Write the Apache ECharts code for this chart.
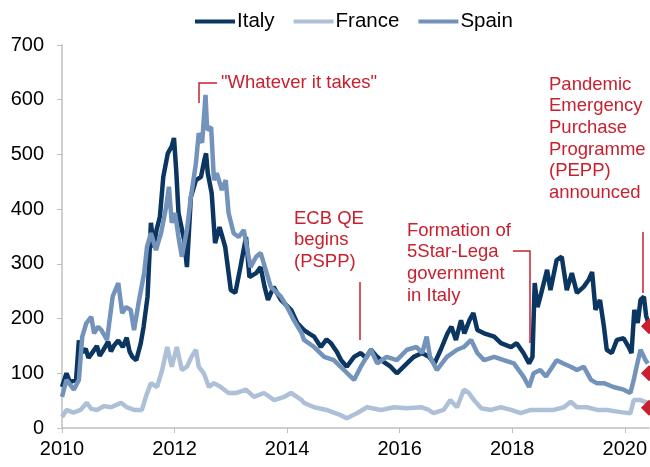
<!DOCTYPE html>
<html>
<head>
<meta charset="utf-8">
<title>Italy, France, Spain spreads</title>
<script src="https://cdn.jsdelivr.net/npm/echarts@6/dist/echarts.min.js"></script>
<style>
    html, body { margin: 0; padding: 0; background: #fff; }
    #main { width: 650px; height: 467px; }
</style>
</head>
<body>
<div id="main"></div>
<script>
// data (year fraction, basis points)
var italyDates = [2010.00, 2010.08, 2010.14, 2010.25, 2010.30, 2010.36, 2010.42, 2010.47, 2010.52, 2010.62, 2010.67, 2010.72, 2010.82, 2010.87, 2010.92, 2011.00, 2011.08, 2011.15, 2011.20, 2011.25, 2011.32, 2011.40, 2011.45, 2011.52, 2011.58, 2011.63, 2011.68, 2011.74, 2011.80, 2011.88, 2011.95, 2011.99, 2012.03, 2012.07, 2012.17, 2012.22, 2012.29, 2012.38, 2012.47, 2012.53, 2012.56, 2012.59, 2012.66, 2012.72, 2012.80, 2012.90, 2013.00, 2013.08, 2013.17, 2013.27, 2013.33, 2013.45, 2013.53, 2013.60, 2013.66, 2013.76, 2013.89, 2014.07, 2014.18, 2014.30, 2014.40, 2014.48, 2014.60, 2014.70, 2014.78, 2014.88, 2014.96, 2015.06, 2015.19, 2015.31, 2015.40, 2015.49, 2015.58, 2015.67, 2015.84, 2015.95, 2016.13, 2016.25, 2016.40, 2016.52, 2016.62, 2016.73, 2016.85, 2016.92, 2017.00, 2017.09, 2017.15, 2017.24, 2017.31, 2017.38, 2017.50, 2017.68, 2017.80, 2017.98, 2018.08, 2018.20, 2018.30, 2018.36, 2018.40, 2018.45, 2018.50, 2018.62, 2018.68, 2018.79, 2018.88, 2018.97, 2019.06, 2019.15, 2019.27, 2019.36, 2019.42, 2019.48, 2019.56, 2019.63, 2019.68, 2019.77, 2019.86, 2019.98, 2020.07, 2020.12, 2020.17, 2020.23, 2020.28, 2020.34, 2020.38, 2020.41];
var italyValues = [75, 100, 84, 88, 160, 138, 145, 128, 135, 150, 132, 140, 158, 140, 150, 160, 148, 165, 140, 130, 124, 155, 185, 240, 375, 330, 362, 386, 459, 502, 515, 530, 470, 393, 344, 294, 422, 453, 459, 490, 502, 466, 429, 338, 367, 331, 252, 247, 294, 349, 276, 283, 294, 258, 234, 258, 234, 216, 192, 179, 172, 167, 148, 162, 155, 140, 124, 112, 130, 137, 128, 143, 132, 124, 112, 100, 118, 130, 137, 130, 118, 143, 173, 185, 161, 197, 173, 197, 210, 179, 173, 167, 155, 148, 155, 137, 118, 130, 265, 221, 240, 289, 252, 307, 313, 252, 283, 247, 258, 271, 285, 216, 234, 185, 143, 137, 161, 164, 148, 137, 216, 192, 234, 240, 205, 195];

var franceDates = [2010.00, 2010.08, 2010.20, 2010.33, 2010.44, 2010.52, 2010.62, 2010.75, 2010.87, 2011.05, 2011.15, 2011.28, 2011.42, 2011.49, 2011.58, 2011.69, 2011.78, 2011.87, 2011.95, 2012.04, 2012.13, 2012.22, 2012.30, 2012.38, 2012.43, 2012.52, 2012.61, 2012.70, 2012.82, 2012.96, 2013.10, 2013.27, 2013.41, 2013.59, 2013.77, 2013.95, 2014.07, 2014.26, 2014.30, 2014.48, 2014.70, 2014.94, 2015.06, 2015.24, 2015.42, 2015.67, 2015.90, 2016.13, 2016.38, 2016.52, 2016.60, 2016.78, 2016.90, 2017.02, 2017.14, 2017.23, 2017.32, 2017.45, 2017.62, 2017.80, 2017.98, 2018.15, 2018.33, 2018.50, 2018.74, 2018.92, 2019.04, 2019.15, 2019.33, 2019.51, 2019.68, 2019.93, 2020.10, 2020.16, 2020.28, 2020.41];
var franceValues = [20, 33, 28, 33, 46, 35, 33, 40, 38, 46, 38, 33, 33, 57, 82, 75, 106, 148, 112, 148, 106, 112, 130, 143, 112, 100, 75, 82, 75, 64, 64, 70, 57, 64, 51, 57, 64, 51, 46, 38, 33, 24, 18, 27, 38, 33, 38, 36, 38, 33, 27, 33, 51, 38, 70, 64, 51, 36, 33, 38, 33, 27, 33, 33, 33, 38, 48, 38, 38, 33, 33, 29, 27, 51, 51, 46];

var spainDates = [2010.00, 2010.08, 2010.21, 2010.30, 2010.36, 2010.43, 2010.52, 2010.57, 2010.64, 2010.70, 2010.80, 2010.90, 2011.00, 2011.07, 2011.14, 2011.22, 2011.28, 2011.37, 2011.46, 2011.51, 2011.58, 2011.67, 2011.76, 2011.85, 2011.90, 2011.95, 2012.01, 2012.07, 2012.13, 2012.22, 2012.29, 2012.38, 2012.43, 2012.49, 2012.55, 2012.58, 2012.65, 2012.70, 2012.75, 2012.84, 2012.91, 2012.96, 2013.05, 2013.14, 2013.23, 2013.35, 2013.45, 2013.53, 2013.62, 2013.71, 2013.77, 2013.89, 2014.00, 2014.12, 2014.26, 2014.30, 2014.48, 2014.66, 2014.83, 2015.01, 2015.19, 2015.31, 2015.49, 2015.60, 2015.77, 2015.95, 2016.13, 2016.30, 2016.40, 2016.48, 2016.54, 2016.66, 2016.84, 2017.02, 2017.14, 2017.27, 2017.38, 2017.50, 2017.68, 2017.85, 2018.03, 2018.20, 2018.30, 2018.38, 2018.50, 2018.60, 2018.79, 2018.91, 2019.04, 2019.15, 2019.27, 2019.40, 2019.50, 2019.63, 2019.80, 2019.98, 2020.10, 2020.16, 2020.21, 2020.28, 2020.37, 2020.41];
var spainValues = [57, 88, 70, 88, 167, 191, 203, 173, 185, 179, 161, 240, 265, 210, 221, 216, 179, 234, 283, 331, 356, 325, 356, 404, 441, 375, 393, 349, 313, 362, 422, 484, 539, 521, 609, 545, 550, 453, 466, 435, 453, 393, 356, 349, 362, 294, 313, 320, 289, 258, 252, 240, 221, 197, 173, 161, 148, 130, 124, 106, 88, 112, 143, 118, 130, 124, 143, 148, 137, 167, 130, 106, 130, 143, 148, 161, 137, 124, 130, 124, 118, 94, 75, 100, 106, 94, 124, 118, 112, 106, 112, 88, 82, 82, 75, 70, 64, 88, 112, 143, 124, 118];

// latest values marked with red diamonds
var lastDate = 2020.43;
var lastValues = [186, 100, 37];

var xTicks = [2010, 2012, 2014, 2016, 2018, 2020];

var red = '#c8202f';
var font = 'Liberation Sans, Arial, sans-serif';

function pairs(dates, values) {
    var out = [];
    for (var i = 0; i < dates.length; i++) {
        out.push([dates[i], values[i]]);
    }
    return out;
}

function redText(x, y, lines) {
    return {
        type: 'text',
        left: x,
        top: y,
        style: {
            text: lines.join('\n'),
            fill: red,
            font: '18.5px ' + font,
            lineHeight: 21.6
        }
    };
}

function redLine(points) {
    return {
        type: 'polyline',
        shape: { points: points },
        style: { stroke: red, lineWidth: 1.5, fill: null }
    };
}

var chart = echarts.init(document.getElementById('main'));

var option = {
    animation: false,
    textStyle: { fontFamily: font },
    legend: {
        top: 6,
        left: 190,
        itemWidth: 40,
        itemHeight: 4,
        itemGap: 19,
        icon: 'rect',
        data: ['Italy', 'France', 'Spain'],
        textStyle: { fontSize: 20.5, color: '#000', fontFamily: font, padding: [0, 0, 0, -3] }
    },
    grid: { left: 62, right: 0, top: 45, bottom: 39, containLabel: false },
    xAxis: {
        type: 'value',
        min: 2010,
        max: lastDate,
        interval: 2,
        axisLine: { lineStyle: { color: '#bfbfbf', width: 1.5 } },
        axisTick: { show: true, length: 5, lineStyle: { color: '#bfbfbf' } },
        splitLine: { show: false },
        axisLabel: {
            fontSize: 20,
            color: '#000',
            margin: 11,
            showMaxLabel: false,
            formatter: function (v) {
                return xTicks.indexOf(v) >= 0 ? String(v) : '';
            }
        }
    },
    yAxis: {
        type: 'value',
        min: 0,
        max: 700,
        interval: 100,
        axisLine: { show: true, lineStyle: { color: '#bfbfbf', width: 1.5 } },
        axisTick: { show: true, length: 5, lineStyle: { color: '#bfbfbf' } },
        splitLine: { show: false },
        axisLabel: { fontSize: 20, color: '#000', margin: 18 }
    },
    series: [
        {
            name: 'Italy',
            type: 'line',
            showSymbol: false,
            color: '#0b3661',
            lineStyle: { width: 4.5 },
            data: pairs(italyDates, italyValues)
        },
        {
            name: 'France',
            type: 'line',
            showSymbol: false,
            color: '#adc0d8',
            lineStyle: { width: 4.5 },
            data: pairs(franceDates, franceValues)
        },
        {
            name: 'Spain',
            type: 'line',
            showSymbol: false,
            color: '#7393bb',
            lineStyle: { width: 4.5 },
            data: pairs(spainDates, spainValues)
        },
        {
            name: 'latest',
            type: 'scatter',
            symbol: 'diamond',
            symbolSize: 16,
            clip: false,
            z: 5,
            itemStyle: { color: red, opacity: 1 },
            data: lastValues.map(function (v) { return [lastDate, v]; })
        }
    ],
    graphic: [
        redText(221, 72, ['"Whatever it takes"']),
        redLine([[199, 103], [199, 83], [217, 83]]),
        redText(294, 208, ['ECB QE', 'begins', '(PSPP)']),
        redLine([[360, 282], [360, 340]]),
        redText(407, 220, ['Formation of', '5Star-Lega', 'government', 'in Italy']),
        redLine([[513, 251], [530, 251], [530, 343]]),
        redText(549, 74, ['Pandemic', 'Emergency', 'Purchase', 'Programme', '(PEPP)', 'announced']),
        redLine([[643, 232], [643, 293]])
    ]
};

chart.setOption(option);
</script>
</body>
</html>
